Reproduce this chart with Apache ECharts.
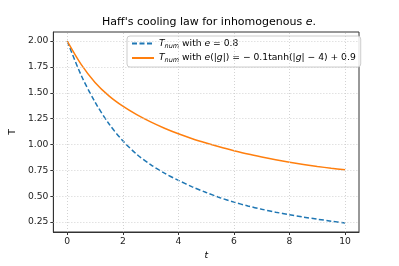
<!DOCTYPE html>
<html>
<head>
<meta charset="utf-8">
<script src="https://cdn.jsdelivr.net/npm/echarts@6/dist/echarts.min.js"></script>
<style>html,body{margin:0;padding:0;background:#fff}#c{width:399px;height:266px}</style>
</head>
<body>
<div id="c"></div>
<script>
var tValues = [0, 0.5, 1, 1.5, 2, 2.5, 3, 3.5, 4, 4.5, 5, 5.5, 6, 6.5, 7, 7.5, 8, 8.5, 9, 9.5, 10];
var blueT = [2.0, 1.67, 1.41, 1.20, 1.035, 0.905, 0.805, 0.722, 0.653, 0.59, 0.535, 0.485, 0.442, 0.405, 0.373, 0.345, 0.32, 0.297, 0.277, 0.258, 0.24];
var orangeT = [2.0, 1.775, 1.60, 1.47, 1.37, 1.288, 1.218, 1.157, 1.103, 1.056, 1.014, 0.975, 0.94, 0.907, 0.878, 0.851, 0.827, 0.806, 0.787, 0.77, 0.755];
var xTicks = [0, 2, 4, 6, 8, 10];
var yTicks = [0.25, 0.5, 0.75, 1.0, 1.25, 1.5, 1.75, 2.0];

var F = 'DejaVu Sans';
function pairs(xs, ys){ return xs.map(function(x,i){return [x, ys[i]];}); }

var chart = echarts.init(document.getElementById('c'), null, {renderer:'canvas'});
chart.setOption({
  animation:false,
  backgroundColor:'#fff',
  title:{
    text:"Haff's cooling law for inhomogenous {i|e}.",
    left:204, top:12, textAlign:'center',
    textStyle:{fontFamily:F, fontSize:11, fontWeight:'normal', color:'#000',
      rich:{i:{fontFamily:F, fontSize:11, fontStyle:'italic', color:'#000'}}}
  },
  grid:{left:49, right:40, top:32, bottom:34, show:true, borderColor:'#333', borderWidth:1, backgroundColor:'transparent'},
  legend:{
    orient:'vertical', left:127, top:36,
    backgroundColor:'rgba(255,255,255,0.85)', borderColor:'#ccc', borderWidth:1, borderRadius:3,
    padding:[3,5,3,4], itemGap:4, itemWidth:22, itemHeight:10,
    itemStyle:{color:'transparent', borderColor:'transparent', borderWidth:0, opacity:0},
    textStyle:{fontFamily:F, fontSize:9.2, color:'#000',
      rich:{
        i:{fontFamily:F, fontSize:9.2, fontStyle:'italic', color:'#000'},
        s:{fontFamily:F, fontSize:6.5, fontStyle:'italic', color:'#000', padding:[5,0,0,0]},
        n:{fontFamily:F, fontSize:9.2, color:'#000'}
      }},
    formatter:function(name){
      if(name==='a') return '{i|T}{s|num}{n| with }{i|e}{n| = 0.8}';
      return '{i|T}{s|num}{n| with }{i|e}{n|(|}{i|g}{n||) = − 0.1tanh(|}{i|g}{n|| − 4) + 0.9}';
    },
    data:['a','b']
  },
  xAxis:{
    type:'value', min:-0.5, max:10.5,
    name:'t', nameLocation:'middle', nameGap:19,
    nameTextStyle:{fontFamily:F, fontSize:9.2, fontStyle:'italic', color:'#000'},
    axisLine:{show:true, onZero:false, lineStyle:{color:'#333', width:1}},
    axisTick:{show:true, length:3, lineStyle:{color:'#333'}, customValues:xTicks},
    axisLabel:{show:true, fontFamily:F, fontSize:9.2, color:'#222', margin:5, customValues:xTicks,
      formatter:function(v){return String(v);}},
    splitLine:{show:false}
  },
  yAxis:{
    type:'value', min:0.153, max:2.088,
    name:'T', nameLocation:'middle', nameGap:33, nameRotate:90,
    nameTextStyle:{fontFamily:F, fontSize:9.2, color:'#000'},
    axisLine:{show:true, onZero:false, lineStyle:{color:'#333', width:1}},
    axisTick:{show:true, length:3, lineStyle:{color:'#333'}, customValues:yTicks},
    axisLabel:{show:true, fontFamily:F, fontSize:9.2, color:'#222', margin:5, customValues:yTicks,
      formatter:function(v){return v.toFixed(2);}},
    splitLine:{show:false}
  },
  series:[
    {
      name:'grid', type:'line', data:[], silent:true,
      markLine:{silent:true, symbol:['none','none'], label:{show:false}, animation:false,
        lineStyle:{color:'#c8c8c8', type:[1,2], width:0.8},
        data: xTicks.map(function(v){return {xAxis:v};}).concat(yTicks.map(function(v){return {yAxis:v};}))
      }
    },
    {
      name:'a', type:'line', data:pairs(tValues, blueT), smooth:0.3, showSymbol:false, symbol:'none',
      lineStyle:{color:'#1f77b4', width:1.5, type:[5,2.5]}, itemStyle:{color:'#1f77b4'}, z:3
    },
    {
      name:'b', type:'line', data:pairs(tValues, orangeT), smooth:0.3, showSymbol:false, symbol:'none',
      lineStyle:{color:'#ff7f0e', width:1.5}, itemStyle:{color:'#ff7f0e'}, z:4
    }
  ]
});
</script>
</body>
</html>
